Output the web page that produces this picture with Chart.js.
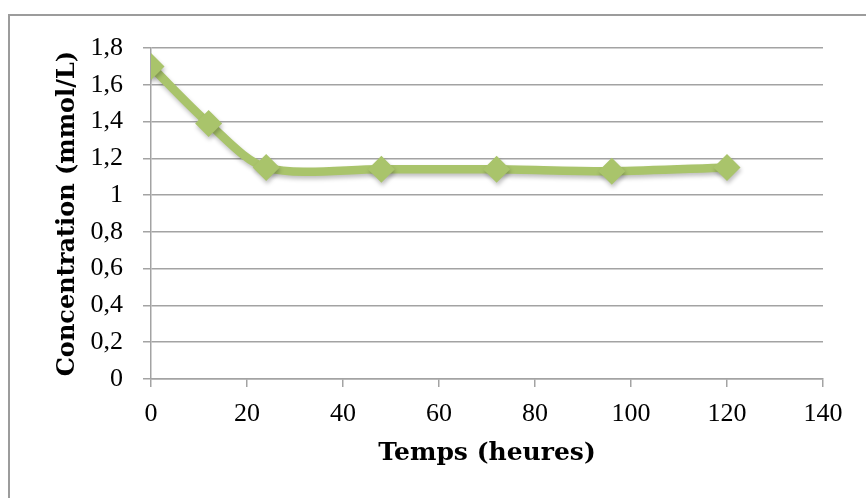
<!DOCTYPE html>
<html>
<head>
<meta charset="utf-8">
<script src="https://cdn.jsdelivr.net/npm/chart.js@4.4.1/dist/chart.umd.min.js"></script>
<style>
  html, body { margin: 0; padding: 0; background: #fff; }
  #wrap { width: 866px; height: 498px; position: relative; }
</style>
</head>
<body>
<div id="wrap"><canvas id="chart" width="866" height="498"></canvas></div>
<script>
// data
const hours = [0, 12, 24, 48, 72, 96, 120];
const concentration = [1.70, 1.39, 1.15, 1.14, 1.14, 1.13, 1.15];
const xTicks = [0, 20, 40, 60, 80, 100, 120, 140];
const yTicks = [0, 0.2, 0.4, 0.6, 0.8, 1, 1.2, 1.4, 1.6, 1.8];

const green = '#a9c46b';
const gridGrey = '#a3a3a3';
const tickFont = "'Liberation Serif', 'DejaVu Serif', serif";
const titleFont = "'DejaVu Serif', 'Liberation Serif', serif";

// outer frame, cut off at right and bottom like the source
const frame = {
    id: 'frame',
    beforeDraw(chart) {
        const ctx = chart.ctx;
        ctx.save();
        ctx.strokeStyle = '#9c9c9c';
        ctx.lineWidth = 2;
        ctx.strokeRect(9, 15, 1000, 1000);
        ctx.restore();
    }
};

// soft shadow under the line and markers
const shadow = {
    id: 'shadow',
    beforeDatasetDraw(chart) {
        const ctx = chart.ctx;
        ctx.save();
        ctx.shadowColor = 'rgba(0,0,0,0.25)';
        ctx.shadowBlur = 4;
        ctx.shadowOffsetX = 1;
        ctx.shadowOffsetY = 3;
    },
    afterDatasetDraw(chart) {
        chart.ctx.restore();
    }
};

const ctx = document.getElementById('chart').getContext('2d');
new Chart(ctx, {
    type: 'line',
    data: {
        datasets: [{
            data: hours.map((h, i) => ({ x: h, y: concentration[i] })),
            borderColor: green,
            backgroundColor: green,
            borderWidth: 8.5,
            tension: 0.3,
            pointStyle: 'rectRot',
            pointRadius: 13.5,
            pointBorderWidth: 0,
            pointBackgroundColor: green
        }]
    },
    plugins: [frame, shadow],
    options: {
        responsive: false,
        animation: false,
        events: [],
        layout: { padding: { top: 48, right: 43, left: 0, bottom: 0 } },
        plugins: {
            legend: { display: false },
            tooltip: { enabled: false }
        },
        scales: {
            x: {
                type: 'linear',
                min: 0,
                max: 140,
                afterBuildTicks: s => { s.ticks = xTicks.map(v => ({ value: v })); },
                afterFit: s => { s.height = 119; },
                grid: { drawOnChartArea: false, drawTicks: true, tickLength: 8, color: gridGrey, lineWidth: 1.5 },
                border: { color: gridGrey, width: 1.5 },
                ticks: { color: '#000', padding: 12, maxRotation: 0, font: { family: tickFont, size: 26 } },
                title: {
                    display: true,
                    text: 'Temps (heures)',
                    color: '#000',
                    padding: { top: 0, bottom: 30 },
                    font: { family: titleFont, size: 25, weight: 'bold' }
                }
            },
            y: {
                min: 0,
                max: 1.8,
                afterBuildTicks: s => { s.ticks = yTicks.map(v => ({ value: v })); },
                afterFit: s => { s.width = 151; },
                grid: { drawTicks: true, tickLength: 8, color: gridGrey, lineWidth: 1.5 },
                border: { color: gridGrey, width: 1.5 },
                ticks: {
                    color: '#000',
                    padding: 20,
                    font: { family: tickFont, size: 26 },
                    callback: v => String(Math.round(v * 10) / 10).replace('.', ',')
                },
                title: {
                    display: true,
                    text: 'Concentration (mmol/L)',
                    color: '#000',
                    padding: { top: 53, bottom: 0 },
                    font: { family: titleFont, size: 24, weight: 'bold' }
                }
            }
        }
    }
});
</script>
</body>
</html>
